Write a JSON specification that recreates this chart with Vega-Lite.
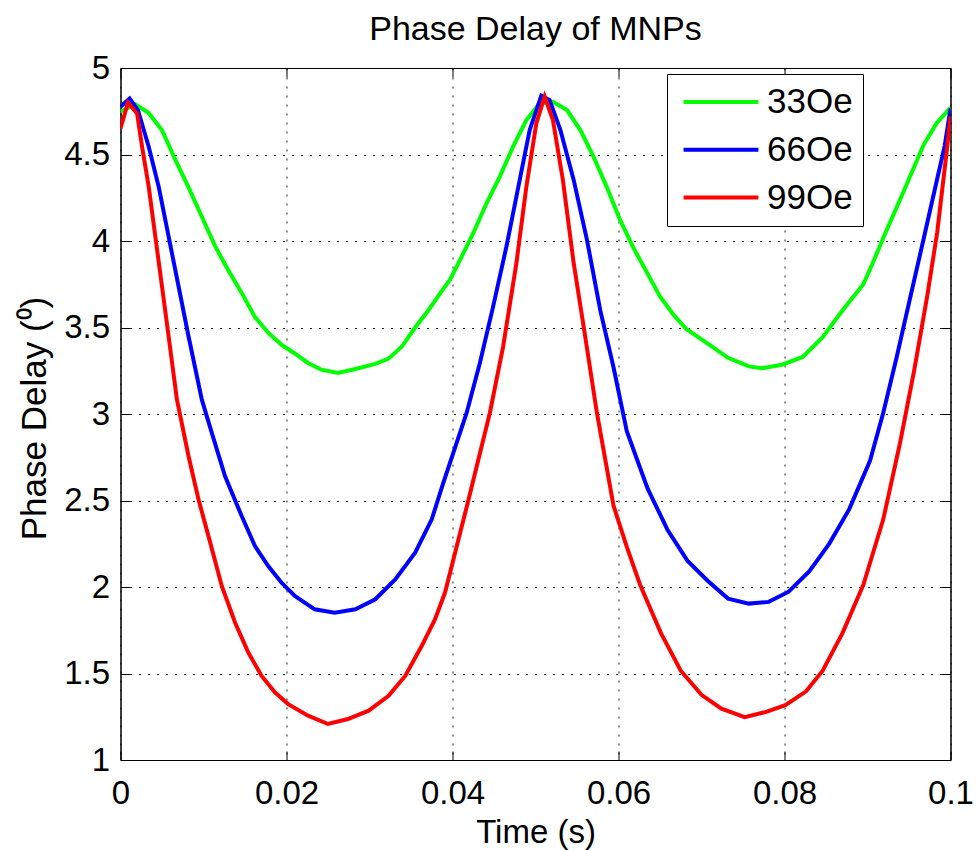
{
  "$schema": "https://vega.github.io/schema/vega-lite/v6.json",
  "width": 830,
  "height": 692,
  "autosize": {"type": "none"},
  "padding": {"left": 120.5, "top": 68, "right": 25.5, "bottom": 90},
  "background": "white",
  "title": {
    "text": "Phase Delay of MNPs",
    "font": "Liberation Sans",
    "fontSize": 34,
    "fontWeight": "normal",
    "color": "black",
    "anchor": "middle",
    "baseline": "bottom",
    "offset": -29
  },
  "config": {
    "view": {"stroke": "black", "strokeWidth": 1},
    "axis": {
      "labelFont": "Liberation Sans",
      "labelFontSize": 33,
      "labelColor": "black",
      "titleFont": "Liberation Sans",
      "titleFontSize": 33,
      "titleFontWeight": "normal",
      "titleColor": "black",
      "domainColor": "black",
      "domainWidth": 1,
      "tickColor": "black",
      "tickWidth": 1,
      "tickSize": -9,
      "gridColor": "black",
      "gridOpacity": 0.85,
      "gridWidth": 1,
      "gridDash": [2, 7]
    }
  },
  "data": {
    "values": [
      {"t": 0, "v": 4.747, "s": "33Oe"},
      {"t": 0.0018, "v": 4.79, "s": "33Oe"},
      {"t": 0.0034, "v": 4.74, "s": "33Oe"},
      {"t": 0.005, "v": 4.64, "s": "33Oe"},
      {"t": 0.0066, "v": 4.47, "s": "33Oe"},
      {"t": 0.0082, "v": 4.31, "s": "33Oe"},
      {"t": 0.0098, "v": 4.14, "s": "33Oe"},
      {"t": 0.0114, "v": 3.97, "s": "33Oe"},
      {"t": 0.013, "v": 3.83, "s": "33Oe"},
      {"t": 0.0146, "v": 3.7, "s": "33Oe"},
      {"t": 0.0162, "v": 3.56, "s": "33Oe"},
      {"t": 0.0178, "v": 3.47, "s": "33Oe"},
      {"t": 0.0194, "v": 3.4, "s": "33Oe"},
      {"t": 0.021, "v": 3.35, "s": "33Oe"},
      {"t": 0.0226, "v": 3.295, "s": "33Oe"},
      {"t": 0.0242, "v": 3.256, "s": "33Oe"},
      {"t": 0.0262, "v": 3.237, "s": "33Oe"},
      {"t": 0.0283, "v": 3.26, "s": "33Oe"},
      {"t": 0.0307, "v": 3.29, "s": "33Oe"},
      {"t": 0.0323, "v": 3.32, "s": "33Oe"},
      {"t": 0.0339, "v": 3.39, "s": "33Oe"},
      {"t": 0.0355, "v": 3.5, "s": "33Oe"},
      {"t": 0.0371, "v": 3.6, "s": "33Oe"},
      {"t": 0.0387, "v": 3.71, "s": "33Oe"},
      {"t": 0.0397, "v": 3.776, "s": "33Oe"},
      {"t": 0.0409, "v": 3.89, "s": "33Oe"},
      {"t": 0.0425, "v": 4.045, "s": "33Oe"},
      {"t": 0.0441, "v": 4.218, "s": "33Oe"},
      {"t": 0.0457, "v": 4.372, "s": "33Oe"},
      {"t": 0.0473, "v": 4.545, "s": "33Oe"},
      {"t": 0.0489, "v": 4.699, "s": "33Oe"},
      {"t": 0.0505, "v": 4.795, "s": "33Oe"},
      {"t": 0.0521, "v": 4.805, "s": "33Oe"},
      {"t": 0.0538, "v": 4.757, "s": "33Oe"},
      {"t": 0.0554, "v": 4.641, "s": "33Oe"},
      {"t": 0.057, "v": 4.487, "s": "33Oe"},
      {"t": 0.0586, "v": 4.31, "s": "33Oe"},
      {"t": 0.0602, "v": 4.12, "s": "33Oe"},
      {"t": 0.0618, "v": 3.96, "s": "33Oe"},
      {"t": 0.0634, "v": 3.82, "s": "33Oe"},
      {"t": 0.065, "v": 3.68, "s": "33Oe"},
      {"t": 0.0666, "v": 3.575, "s": "33Oe"},
      {"t": 0.0682, "v": 3.49, "s": "33Oe"},
      {"t": 0.0708, "v": 3.405, "s": "33Oe"},
      {"t": 0.0732, "v": 3.325, "s": "33Oe"},
      {"t": 0.0757, "v": 3.275, "s": "33Oe"},
      {"t": 0.0773, "v": 3.265, "s": "33Oe"},
      {"t": 0.0797, "v": 3.285, "s": "33Oe"},
      {"t": 0.0822, "v": 3.33, "s": "33Oe"},
      {"t": 0.0846, "v": 3.444, "s": "33Oe"},
      {"t": 0.087, "v": 3.6, "s": "33Oe"},
      {"t": 0.0895, "v": 3.75, "s": "33Oe"},
      {"t": 0.0907, "v": 3.88, "s": "33Oe"},
      {"t": 0.0921, "v": 4.04, "s": "33Oe"},
      {"t": 0.0943, "v": 4.28, "s": "33Oe"},
      {"t": 0.0967, "v": 4.55, "s": "33Oe"},
      {"t": 0.0983, "v": 4.68, "s": "33Oe"},
      {"t": 0.1, "v": 4.77, "s": "33Oe"},

      {"t": 0, "v": 4.776, "s": "66Oe"},
      {"t": 0.0011, "v": 4.824, "s": "66Oe"},
      {"t": 0.0021, "v": 4.757, "s": "66Oe"},
      {"t": 0.0034, "v": 4.545, "s": "66Oe"},
      {"t": 0.0046, "v": 4.314, "s": "66Oe"},
      {"t": 0.0058, "v": 4.025, "s": "66Oe"},
      {"t": 0.007, "v": 3.737, "s": "66Oe"},
      {"t": 0.0082, "v": 3.448, "s": "66Oe"},
      {"t": 0.0098, "v": 3.083, "s": "66Oe"},
      {"t": 0.011, "v": 2.891, "s": "66Oe"},
      {"t": 0.0126, "v": 2.64, "s": "66Oe"},
      {"t": 0.0146, "v": 2.41, "s": "66Oe"},
      {"t": 0.0162, "v": 2.237, "s": "66Oe"},
      {"t": 0.0178, "v": 2.121, "s": "66Oe"},
      {"t": 0.0194, "v": 2.025, "s": "66Oe"},
      {"t": 0.021, "v": 1.948, "s": "66Oe"},
      {"t": 0.0234, "v": 1.871, "s": "66Oe"},
      {"t": 0.0258, "v": 1.852, "s": "66Oe"},
      {"t": 0.0283, "v": 1.871, "s": "66Oe"},
      {"t": 0.0307, "v": 1.929, "s": "66Oe"},
      {"t": 0.0331, "v": 2.044, "s": "66Oe"},
      {"t": 0.0355, "v": 2.198, "s": "66Oe"},
      {"t": 0.0375, "v": 2.391, "s": "66Oe"},
      {"t": 0.0389, "v": 2.603, "s": "66Oe"},
      {"t": 0.0417, "v": 3.006, "s": "66Oe"},
      {"t": 0.0433, "v": 3.295, "s": "66Oe"},
      {"t": 0.0449, "v": 3.622, "s": "66Oe"},
      {"t": 0.0465, "v": 3.968, "s": "66Oe"},
      {"t": 0.0481, "v": 4.353, "s": "66Oe"},
      {"t": 0.0493, "v": 4.641, "s": "66Oe"},
      {"t": 0.0507, "v": 4.84, "s": "66Oe"},
      {"t": 0.0517, "v": 4.814, "s": "66Oe"},
      {"t": 0.053, "v": 4.641, "s": "66Oe"},
      {"t": 0.0546, "v": 4.353, "s": "66Oe"},
      {"t": 0.0562, "v": 4.007, "s": "66Oe"},
      {"t": 0.0578, "v": 3.6, "s": "66Oe"},
      {"t": 0.0594, "v": 3.27, "s": "66Oe"},
      {"t": 0.061, "v": 2.9, "s": "66Oe"},
      {"t": 0.0635, "v": 2.57, "s": "66Oe"},
      {"t": 0.0659, "v": 2.331, "s": "66Oe"},
      {"t": 0.0683, "v": 2.152, "s": "66Oe"},
      {"t": 0.0708, "v": 2.033, "s": "66Oe"},
      {"t": 0.0732, "v": 1.933, "s": "66Oe"},
      {"t": 0.0757, "v": 1.904, "s": "66Oe"},
      {"t": 0.0781, "v": 1.914, "s": "66Oe"},
      {"t": 0.0805, "v": 1.973, "s": "66Oe"},
      {"t": 0.083, "v": 2.092, "s": "66Oe"},
      {"t": 0.0854, "v": 2.251, "s": "66Oe"},
      {"t": 0.0878, "v": 2.45, "s": "66Oe"},
      {"t": 0.0903, "v": 2.729, "s": "66Oe"},
      {"t": 0.0919, "v": 3.007, "s": "66Oe"},
      {"t": 0.0935, "v": 3.325, "s": "66Oe"},
      {"t": 0.0951, "v": 3.663, "s": "66Oe"},
      {"t": 0.0968, "v": 4.02, "s": "66Oe"},
      {"t": 0.0984, "v": 4.36, "s": "66Oe"},
      {"t": 0.0993, "v": 4.55, "s": "66Oe"},
      {"t": 0.1, "v": 4.766, "s": "66Oe"},

      {"t": 0, "v": 4.651, "s": "99Oe"},
      {"t": 0.0009, "v": 4.8, "s": "99Oe"},
      {"t": 0.002, "v": 4.737, "s": "99Oe"},
      {"t": 0.0026, "v": 4.545, "s": "99Oe"},
      {"t": 0.0034, "v": 4.314, "s": "99Oe"},
      {"t": 0.0042, "v": 4.025, "s": "99Oe"},
      {"t": 0.005, "v": 3.737, "s": "99Oe"},
      {"t": 0.0058, "v": 3.448, "s": "99Oe"},
      {"t": 0.0068, "v": 3.083, "s": "99Oe"},
      {"t": 0.0082, "v": 2.756, "s": "99Oe"},
      {"t": 0.0094, "v": 2.506, "s": "99Oe"},
      {"t": 0.0106, "v": 2.294, "s": "99Oe"},
      {"t": 0.0122, "v": 2.006, "s": "99Oe"},
      {"t": 0.0138, "v": 1.795, "s": "99Oe"},
      {"t": 0.0154, "v": 1.621, "s": "99Oe"},
      {"t": 0.017, "v": 1.486, "s": "99Oe"},
      {"t": 0.0186, "v": 1.391, "s": "99Oe"},
      {"t": 0.0202, "v": 1.323, "s": "99Oe"},
      {"t": 0.0226, "v": 1.256, "s": "99Oe"},
      {"t": 0.025, "v": 1.208, "s": "99Oe"},
      {"t": 0.0274, "v": 1.237, "s": "99Oe"},
      {"t": 0.0299, "v": 1.285, "s": "99Oe"},
      {"t": 0.0323, "v": 1.371, "s": "99Oe"},
      {"t": 0.0343, "v": 1.486, "s": "99Oe"},
      {"t": 0.0363, "v": 1.66, "s": "99Oe"},
      {"t": 0.0379, "v": 1.814, "s": "99Oe"},
      {"t": 0.0391, "v": 1.968, "s": "99Oe"},
      {"t": 0.0418, "v": 2.48, "s": "99Oe"},
      {"t": 0.0445, "v": 3.006, "s": "99Oe"},
      {"t": 0.0461, "v": 3.39, "s": "99Oe"},
      {"t": 0.0477, "v": 3.872, "s": "99Oe"},
      {"t": 0.0489, "v": 4.314, "s": "99Oe"},
      {"t": 0.0501, "v": 4.68, "s": "99Oe"},
      {"t": 0.0511, "v": 4.835, "s": "99Oe"},
      {"t": 0.0521, "v": 4.699, "s": "99Oe"},
      {"t": 0.0533, "v": 4.353, "s": "99Oe"},
      {"t": 0.0546, "v": 3.872, "s": "99Oe"},
      {"t": 0.0558, "v": 3.506, "s": "99Oe"},
      {"t": 0.0574, "v": 3.006, "s": "99Oe"},
      {"t": 0.0594, "v": 2.47, "s": "99Oe"},
      {"t": 0.061, "v": 2.232, "s": "99Oe"},
      {"t": 0.0626, "v": 2.013, "s": "99Oe"},
      {"t": 0.0651, "v": 1.735, "s": "99Oe"},
      {"t": 0.0675, "v": 1.516, "s": "99Oe"},
      {"t": 0.07, "v": 1.377, "s": "99Oe"},
      {"t": 0.0724, "v": 1.297, "s": "99Oe"},
      {"t": 0.0752, "v": 1.248, "s": "99Oe"},
      {"t": 0.0777, "v": 1.277, "s": "99Oe"},
      {"t": 0.0801, "v": 1.317, "s": "99Oe"},
      {"t": 0.0826, "v": 1.397, "s": "99Oe"},
      {"t": 0.0846, "v": 1.516, "s": "99Oe"},
      {"t": 0.087, "v": 1.735, "s": "99Oe"},
      {"t": 0.0895, "v": 2.013, "s": "99Oe"},
      {"t": 0.0919, "v": 2.391, "s": "99Oe"},
      {"t": 0.0939, "v": 2.828, "s": "99Oe"},
      {"t": 0.0956, "v": 3.245, "s": "99Oe"},
      {"t": 0.0972, "v": 3.683, "s": "99Oe"},
      {"t": 0.0984, "v": 4.05, "s": "99Oe"},
      {"t": 0.0995, "v": 4.5, "s": "99Oe"},
      {"t": 0.1, "v": 4.72, "s": "99Oe"}
    ]
  },
  "layer": [
    {
      "mark": {"type": "line", "strokeWidth": 4, "clip": true},
      "encoding": {
        "x": {
          "field": "t", "type": "quantitative",
          "scale": {"domain": [0, 0.1], "nice": false, "zero": false},
          "axis": {
            "orient": "bottom",
            "title": "Time (s)",
            "values": [0, 0.02, 0.04, 0.06, 0.08, 0.1],
            "format": "~g",
            "labelPadding": 26,
            "labelFlush": false,
            "titleY": 82,
            "titleBaseline": "alphabetic",
            "grid": true
          }
        },
        "y": {
          "field": "v", "type": "quantitative",
          "scale": {"domain": [1, 5], "nice": false, "zero": false},
          "axis": {
            "orient": "left",
            "title": "Phase Delay (⁰)",
            "titleFontSize": 35,
            "values": [1, 1.5, 2, 2.5, 3, 3.5, 4, 4.5, 5],
            "format": "~g",
            "labelPadding": 20,
            "labelFlush": false,
            "titleAngle": -90,
            "titleX": -75,
            "titleY": 350,
            "titleAlign": "center",
            "titleBaseline": "alphabetic",
            "grid": true
          }
        },
        "color": {
          "field": "s", "type": "nominal",
          "scale": {"domain": ["33Oe", "66Oe", "99Oe"], "range": ["#00ff00", "#0000ff", "#ff0000"]},
          "legend": {
            "title": null,
            "orient": "none",
            "legendX": 546.5,
            "legendY": 6,
            "symbolType": "M -2.34 0 L 2.34 0",
            "symbolSize": 1024,
            "symbolStrokeWidth": 4,
            "labelFont": "Liberation Sans",
            "labelFontSize": 35,
            "labelColor": "black",
            "labelOffset": 28,
            "symbolOffset": 26,
            "rowPadding": 11.8,
            "padding": 10,
            "strokeColor": "black",
            "fillColor": "white"
          }
        }
      }
    },
    {
      "mark": {"type": "point", "opacity": 0},
      "encoding": {
        "x": {
          "field": "t", "type": "quantitative",
          "axis": {"orient": "top", "title": null, "labels": false, "grid": false, "minExtent": 0, "maxExtent": 0, "values": [0, 0.02, 0.04, 0.06, 0.08, 0.1]}
        },
        "y": {
          "field": "v", "type": "quantitative",
          "axis": {"orient": "right", "title": null, "labels": false, "grid": false, "minExtent": 0, "maxExtent": 0, "values": [1, 1.5, 2, 2.5, 3, 3.5, 4, 4.5, 5]}
        }
      }
    }
  ],
  "resolve": {"axis": {"x": "independent", "y": "independent"}}
}
